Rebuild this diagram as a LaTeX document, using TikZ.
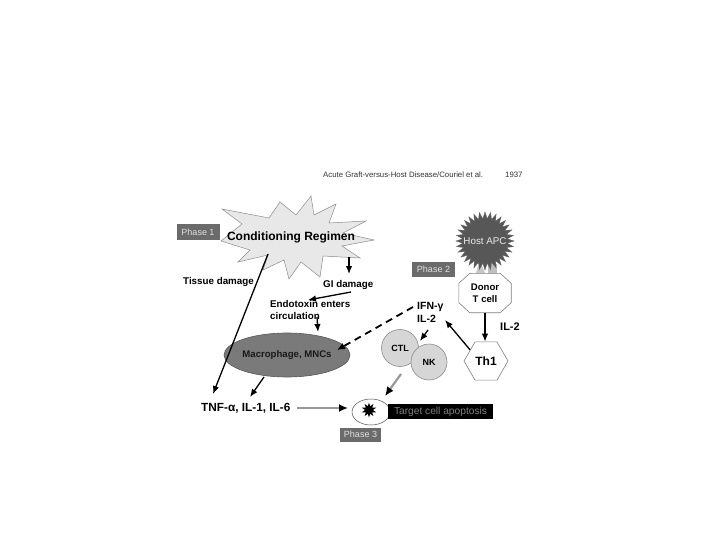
\documentclass[tikz,border=0pt]{standalone}
\usepackage{fontspec}
\setmainfont{Liberation Sans}
\usetikzlibrary{arrows.meta,shapes.geometric,calc}
\begin{document}
\begin{tikzpicture}[x=1pt,y=-1pt,
  arr/.style={line width=1.3pt,-{Latex[length=8pt,width=6.5pt]}},
  garr/.style={line width=2.2pt,draw=black!40,-{Latex[length=9pt,width=8pt,color=black]}},
  dasharr/.style={line width=1.8pt,dash pattern=on 7pt off 5pt,-{Latex[length=8pt,width=7pt]}},
  lbl/.style={inner sep=0pt,font=\fontsize{9.8}{12.5}\selectfont\bfseries},
  phase/.style={fill=black!58,text=black!12,inner sep=0pt,minimum width=43pt,minimum height=15pt,font=\fontsize{9}{10}\selectfont},
  cellline/.style={draw=black!50,line width=0.6pt,fill=white},
  ball/.style={circle,fill=black!16,draw=black!45,line width=0.6pt,inner sep=0pt,minimum size=37pt,font=\fontsize{9}{10}\selectfont\bfseries},
]
\useasboundingbox[fill=white] (0,0) rectangle (720,540);

% header
\node[inner sep=0,anchor=west,text=black!80,font=\fontsize{7.8}{9}\selectfont] (hdr) at (323,175) {Acute Graft-versus-Host Disease/Couriel et al.};
\node[inner sep=0,anchor=west,text=black!80,font=\fontsize{7.8}{9}\selectfont] (yr) at (505,175) {1937};

% conditioning regimen starburst
\filldraw[fill=black!9,draw=black!45,line width=0.5pt]
  (222,209) -- (269,218) -- (280,202) -- (296,215) -- (311,196) -- (314,215)
  -- (336,204) -- (329,223) -- (366,221) -- (343,233) -- (374,240) -- (342,246)
  -- (360,258) -- (323,256) -- (320,277) -- (301,262) -- (289,279) -- (284,260)
  -- (263,270) -- (268,255) -- (238,262) -- (250,250) -- (221,241) -- (242,224) -- cycle;
\node[inner sep=0,font=\fontsize{12}{14}\selectfont\bfseries] (cr) at (291,237) {Conditioning Regimen};
\node[phase] (p1) at (198,232) {Phase 1};

% left-side labels
\node[lbl,anchor=west] (tissue) at (183,282) {Tissue damage};
\node[lbl,anchor=west] (gi) at (323,285) {GI damage};
\node[lbl,align=left,anchor=north west] (endo) at (270,300) {Endotoxin enters\\circulation};
\node[ellipse,minimum width=98pt,minimum height=44pt,fill=black!52,draw=black!65,line width=0.6pt,inner sep=0,
      font=\fontsize{9.6}{11}\selectfont\bfseries,text=black!90] (mac) at (287,355) {Macrophage, MNCs};
\node[inner sep=0,anchor=west,font=\fontsize{11.8}{14}\selectfont\bfseries] (tnf) at (201,408) {TNF-α, IL-1, IL-6};

% target cell
\node[ellipse,minimum width=38pt,minimum height=26pt,draw=black!70,line width=0.5pt,inner sep=0] (tgt) at (371,412) {};
\node[star,star points=10,star point ratio=1.9,minimum size=15pt,fill=black,inner sep=0] (splat) at (369,410) {};
\node[fill=black,text=black!50,minimum width=105pt,minimum height=15pt,inner sep=0,font=\fontsize{10.2}{12}\selectfont] (apop) at (440.5,411.5) {Target cell apoptosis};
\node[phase,minimum width=41pt,minimum height=14pt] (p3) at (360.5,434.5) {Phase 3};

% host APC and donor T cell
\fill[black!22] (476,273) -- (478,266) -- (482,266) -- (485,273) -- cycle;
\fill[black!25] (488,264) rectangle (497,275);
\node[star,star points=32,star point ratio=1.3,minimum size=58pt,fill=black!66,draw=black!60,inner sep=0] (apc) at (485,241) {};
\node[inner sep=0,text=black!8,font=\fontsize{9.8}{11}\selectfont] (apct) at (apc) {Host APC};
\node[phase] (p2) at (433.5,269.5) {Phase 2};

\node[minimum width=52pt,minimum height=39pt,inner sep=0] (dtc) at (485,293) {};
\draw[cellline] ([xshift=11pt]dtc.north west) -- ([xshift=-11pt]dtc.north east) -- ([yshift=-10pt]dtc.north east)
  -- ([yshift=10pt]dtc.south east) -- ([xshift=-11pt]dtc.south east) -- ([xshift=11pt]dtc.south west)
  -- ([yshift=10pt]dtc.south west) -- ([yshift=-10pt]dtc.north west) -- cycle;
\node[lbl,align=center,font=\fontsize{9.6}{12}\selectfont\bfseries] (dtct) at (dtc) {Donor\\T cell};

\node[regular polygon,regular polygon sides=6,minimum size=44pt,inner sep=0,cellline] (th1) at (486,361) {};
\node[inner sep=0,font=\fontsize{12}{14}\selectfont\bfseries] (th1t) at (th1) {Th1};
\node[inner sep=0,anchor=west,font=\fontsize{11}{13}\selectfont\bfseries] (il2) at (500,327) {IL-2};

\node[inner sep=0,align=left,anchor=north west,font=\fontsize{10.5}{13}\selectfont\bfseries] (ifn) at (417,302) {IFN-γ\\IL-2};

\node[ball] (ctl) at (400,348) {CTL};
\node[ball,minimum size=36pt] (nk) at (429,362) {NK};

% connector end points
\coordinate (crTD) at (268,254);
\coordinate (tnfTD) at (213,394);
\coordinate (crGI) at (349,257);
\coordinate (giTop) at (349,274);
\coordinate (giOut) at (351,292);
\coordinate (endoIn) at (308,300);
\coordinate (endoOut) at (317,317);
\coordinate (macIn) at (318,332);
\coordinate (ifnOut) at (413,307);
\coordinate (macIn2) at (337,350);
\coordinate (macOut) at (264,377);
\coordinate (tnfIn) at (250,397);
\coordinate (tnfOut) at (297,408);
\coordinate (tgtIn) at (348,408);
\coordinate (ifnOut2) at (428,330);
\coordinate (ctlIn) at (420,341);
\coordinate (nkOut) at (401,374);
\coordinate (tgtIn2) at (385,396);
\coordinate (ifnIn) at (445,320);

% connectors
\draw[arr] (crTD) -- (tnfTD);
\draw[arr] (crGI) -- (giTop);
\draw[arr] (giOut) -- (endoIn);
\draw[arr] (endoOut) -- (macIn);
\draw[dasharr] (ifnOut) -- (macIn2);
\draw[arr] (macOut) -- (tnfIn);
\draw[garr] (tnfOut) -- (tgtIn);
\draw[arr] (dtc.south) -- (dtc.south |- th1.north);
\draw[arr] (th1.145) -- (ifnIn);
\draw[arr] (ifnOut2) -- (ctlIn);
\draw[garr] (nkOut) -- (tgtIn2);
\end{tikzpicture}
\end{document}
